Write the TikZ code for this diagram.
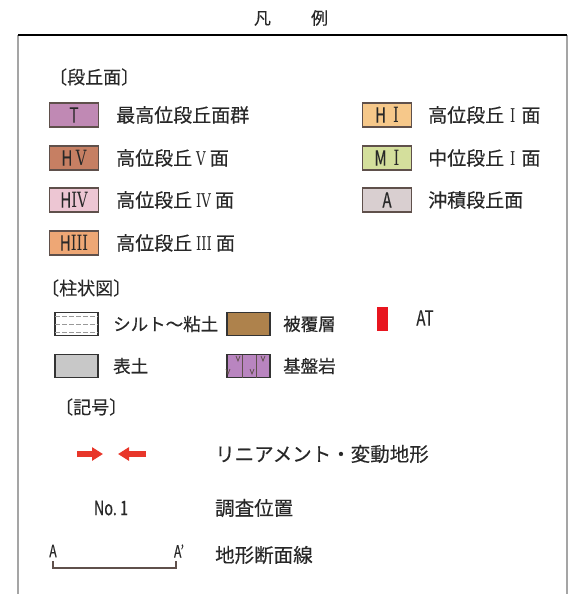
\documentclass[tikz,border=0pt]{standalone}
\usepackage{fontspec}
\setmainfont[FakeBold=0.3]{Noto Sans CJK JP}
\newfontfamily\narrowfont[FakeStretch=0.72,FakeBold=0.3]{Noto Sans CJK JP}
\newfontfamily\numfont[FakeStretch=0.7]{DejaVu Serif}
\newfontfamily\boxnum[FakeStretch=0.7]{DejaVu Serif}
\usetikzlibrary{arrows.meta}

\definecolor{boxedge}{RGB}{95,80,75}
\definecolor{framegray}{RGB}{165,165,165}
\definecolor{terT}{RGB}{192,137,180}
\definecolor{terHV}{RGB}{198,127,99}
\definecolor{terHIV}{RGB}{237,198,211}
\definecolor{terHIII}{RGB}{238,167,117}
\definecolor{terHI}{RGB}{246,200,138}
\definecolor{terMI}{RGB}{212,223,156}
\definecolor{terA}{RGB}{217,207,208}
\definecolor{cover}{RGB}{174,130,76}
\definecolor{topsoil}{RGB}{200,200,200}
\definecolor{bedrock}{RGB}{185,133,192}
\definecolor{atred}{RGB}{232,21,31}
\definecolor{arrowred}{RGB}{232,54,42}
\definecolor{textgray}{RGB}{40,40,40}

\newcommand{\rnum}[1]{\hspace{4pt}{\numfont #1}\hspace{4pt}}

\begin{document}
\begin{tikzpicture}[x=1pt,y=-1pt,
    terrace/.style={draw=boxedge,line width=1.3pt,minimum width=49pt,minimum height=24pt,inner sep=0pt,
      text=textgray,font=\narrowfont\fontsize{21}{21}\selectfont},
    column box/.style={draw=black!80,line width=1.3pt,minimum width=43pt,minimum height=23pt,inner sep=0pt},
    item/.style={anchor=west,inner sep=0pt,text=textgray,font=\fontsize{19}{19}\selectfont},
    small item/.style={item,font=\fontsize{17.5}{17.5}\selectfont},
    big item/.style={item,font=\fontsize{19.5}{19.5}\selectfont},
    heading/.style={anchor=west,inner sep=0pt,text=textgray,font=\fontsize{18}{18}\selectfont},
    tagtext/.style={inner sep=0pt,text=textgray,font=\narrowfont\fontsize{21}{21}\selectfont},
    fault arrow/.style={line width=5.5pt,arrowred,-{Triangle[length=11pt,width=13pt]}},
    rock mark/.style={boxedge,line width=0.8pt}
  ]
  \useasboundingbox (0,0) rectangle (572,594);

  % title and frame
  \node[text=textgray,font=\fontsize{17}{17}\selectfont] (title) at (291,18) {凡\hspace{40pt}例};
  \draw[framegray,line width=1.5pt] (18,594) -- (18,35);
  \draw[framegray,line width=2.5pt] (567,35) -- (567,594);
  \draw[black,line width=1.5pt] (18,35) -- (567,35);

  % terraces
  \node[heading] (hTer) at (49,77) {〔段丘面〕};
  \node[terrace,fill=terT] (bT) at (74,115) {T};
  \node[item] (tT) at (116,115) {最高位段丘面群};
  \node[terrace,fill=terHV] (bHV) at (74,158) {H\,{\boxnum V}};
  \node[item] (tHV) at (116,158) {高位段丘\rnum{V}面};
  \node[terrace,fill=terHIV] (bHIV) at (74,200) {H{\boxnum IV}};
  \node[item] (tHIV) at (116,200) {高位段丘\rnum{IV}面};
  \node[terrace,fill=terHIII] (bHIII) at (74,243) {H{\boxnum III}};
  \node[item] (tHIII) at (116,243) {高位段丘\rnum{III}面};
  \node[terrace,fill=terHI] (bHI) at (387,115) {H\hspace{7pt}{\boxnum I}};
  \node[item] (tHI) at (428,115) {高位段丘\hspace{2pt}\rnum{I}\hspace{2pt}面};
  \node[terrace,fill=terMI] (bMI) at (387,158) {M\hspace{7pt}{\boxnum I}};
  \node[item] (tMI) at (428,158) {中位段丘\hspace{2pt}\rnum{I}\hspace{2pt}面};
  \node[terrace,fill=terA] (bA) at (387,200) {A};
  \node[item] (tA) at (428,200) {沖積段丘面};

  % columns
  \node[heading] (hCol) at (41,288) {〔柱状図〕};
  \node[column box,fill=white] (bSilt) at (76.5,324) {};
  \foreach \dy in {8,0,-8}
    \draw[gray!80,dash pattern=on 5pt off 2pt] ([xshift=1pt,yshift=\dy pt]bSilt.west) -- ([xshift=-1pt,yshift=\dy pt]bSilt.east);
  \node[small item] (tSilt) at (113,324) {シルト～粘土};
  \node[column box,fill=cover] (bCover) at (248.5,324) {};
  \node[small item] (tCover) at (283,324) {被覆層};
  \node[fill=atred,minimum width=11pt,minimum height=24pt,inner sep=0pt] (bAT) at (382.5,319) {};
  \node[tagtext] (tAT) at (425,318) {AT};
  \node[column box,fill=topsoil] (bSoil) at (76.5,366) {};
  \node[small item] (tSoil) at (113,366) {表土};
  \node[column box,fill=bedrock] (bRock) at (248.5,366) {};
  \draw[rock mark] (242,355) -- (242,378) (256,355) -- (256,378);
  \foreach \vx/\vy in {238/356,263/356,228/369,252/369}
    \draw[rock mark] (\vx-2,\vy) -- (\vx,\vy+5) -- (\vx+2,\vy);
  \node[small item] (tRock) at (283,366) {基盤岩};

  % symbols
  \node[heading] (hSym) at (55,407) {〔記号〕};
  \coordinate (arrA) at (77,454);
  \coordinate (arrB) at (103,454);
  \coordinate (arrC) at (146,454);
  \coordinate (arrD) at (118,454);
  \draw[fault arrow] (arrA) -- (arrB);
  \draw[fault arrow] (arrC) -- (arrD);
  \node[big item] (tFault) at (215,454) {リニアメント・変動地形};
  \node[tagtext,font=\narrowfont\fontsize{20}{20}\selectfont] (tNo) at (111,508) {No.\ 1};
  \node[big item] (tSite) at (215,508) {調査位置};
  \node[tagtext,font=\narrowfont\fontsize{17}{17}\selectfont] (secA) at (53,551) {A};
  \node[tagtext,font=\narrowfont\fontsize{17}{17}\selectfont] (secB) at (179,551) {A’};
  \coordinate (secL) at (53,561);
  \coordinate (secR) at (176,561);
  \draw[boxedge,line width=1.8pt] (secL) -- ++(0,7) -| (secR);
  \node[big item] (tSec) at (215,555) {地形断面線};
\end{tikzpicture}
\end{document}
